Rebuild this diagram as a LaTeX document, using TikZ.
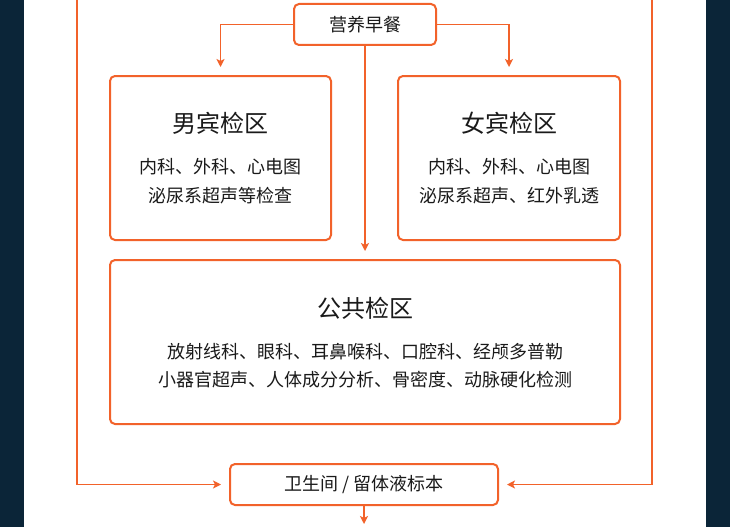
\documentclass[tikz,border=0pt]{standalone}
\usepackage{fontspec}
\setmainfont{Noto Sans CJK SC}
\usetikzlibrary{arrows.meta}
\definecolor{orng}{HTML}{F2622A}
\definecolor{navy}{HTML}{0B2538}
\definecolor{txt}{HTML}{1A1A1A}
\tikzset{
  box/.style={draw=orng, line width=2pt, rounded corners=5pt, fill=white, inner sep=0pt},
  conn/.style={draw=orng, line width=1.4pt, -{Stealth[length=8pt,width=8pt,inset=2pt]}},
  ttl/.style={text=txt, font=\fontsize{24}{28}\selectfont, inner sep=0pt},
  bdy/.style={text=txt, font=\fontsize{18}{22}\selectfont, inner sep=0pt},
}
\begin{document}
\begin{tikzpicture}[x=1pt,y=-1pt]
\useasboundingbox (0,0) rectangle (730,527);
\fill[white] (0,0) rectangle (730,527);
\fill[navy] (0,0) rectangle (24,527);
\fill[navy] (706,0) rectangle (730,527);

% boxes
\node[box, minimum width=142pt, minimum height=41pt] (top) at (365,24.5) {};
\node[bdy] (toptxt) at (365,25) {营养早餐};
\node[box, minimum width=221pt, minimum height=164pt] (male) at (220.5,158) {};
\node[box, minimum width=222pt, minimum height=164pt] (female) at (509,158) {};
\node[box, minimum width=510pt, minimum height=164pt] (pub) at (365,342) {};
\node[box, minimum width=268pt, minimum height=41pt] (bot) at (364,484.5) {};

\node[ttl] (mt) at (220.5,123) {男宾检区};
\node[bdy] (m1) at (220.5,167) {内科、外科、心电图};
\node[bdy] (m2) at (220.5,196) {泌尿系超声等检查};
\node[ttl] (ft) at (509,123) {女宾检区};
\node[bdy] (f1) at (509,167) {内科、外科、心电图};
\node[bdy] (f2) at (509,196) {泌尿系超声、红外乳透};
\node[ttl] (pt) at (365,308) {公共检区};
\node[bdy] (p1) at (365,352) {放射线科、眼科、耳鼻喉科、口腔科、经颅多普勒};
\node[bdy] (p2) at (365,380) {小器官超声、人体成分分析、骨密度、动脉硬化检测};
\node[bdy] (bt) at (364,485) {卫生间 / 留体液标本};

% connectors
\coordinate (lt) at (77,0);
\coordinate (rt) at (652,0);
\coordinate (endp) at (364,524);
\draw[conn, shorten >=8pt] (top.west) -| (male.north);
\draw[conn, shorten >=8pt] (top.east) -| (female.north);
\draw[conn, shorten >=8pt] (top.south) -- (top.south |- pub.north);
\draw[conn, shorten >=8pt] (lt) |- (bot.west);
\draw[conn, shorten >=8pt] (rt) |- (bot.east);
\draw[conn] (bot.south) -- (endp);
\end{tikzpicture}
\end{document}
